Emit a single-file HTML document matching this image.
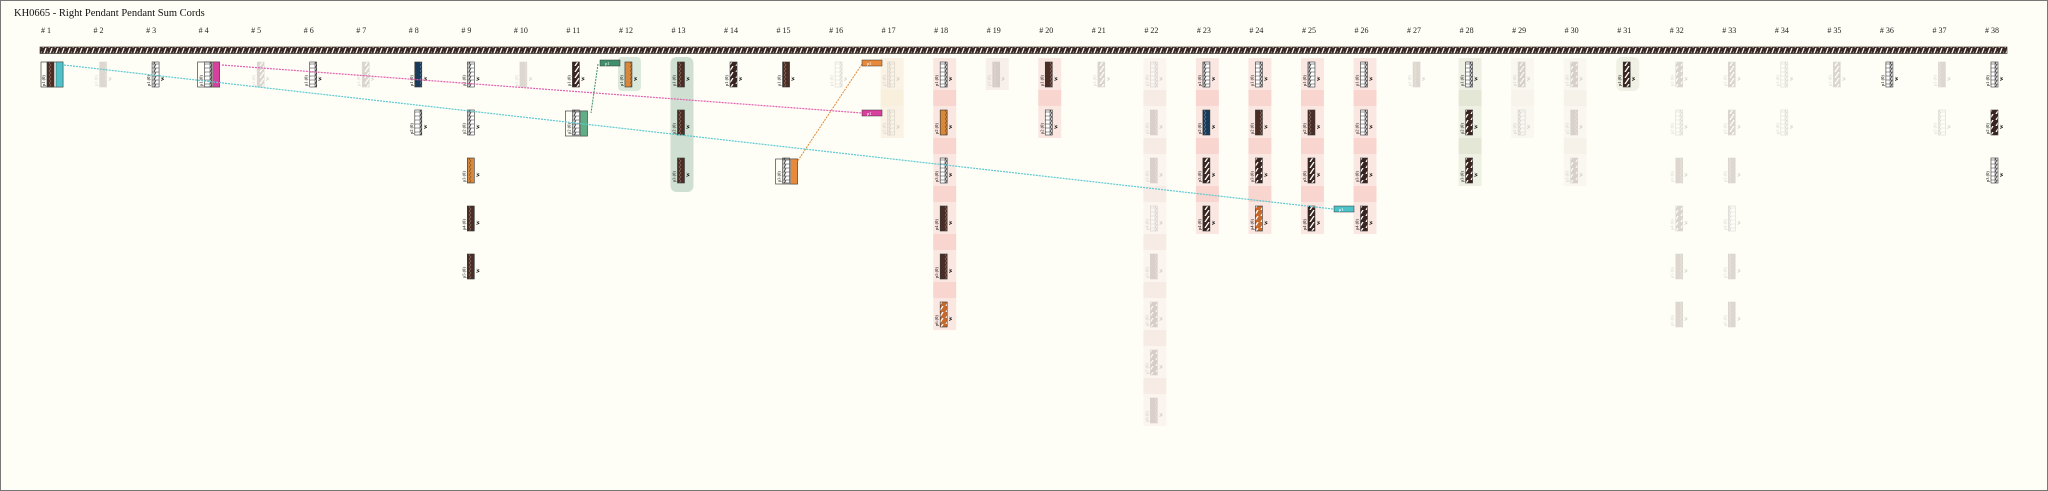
<!DOCTYPE html>
<html><head><meta charset="utf-8">
<style>
html,body{margin:0;padding:0;background:#fffef6;}
body{width:2048px;height:491px;overflow:hidden;position:relative;}
#frame{position:absolute;left:0;top:0;width:2046px;height:489px;border:1px solid #777;}
svg{position:absolute;left:0;top:0;}
text{font-family:"Liberation Serif",serif;}
</style></head><body>
<div id="frame"></div>
<svg id="s" width="2048" height="491" xmlns="http://www.w3.org/2000/svg">
<defs>
<pattern id="band" width="6" height="8" patternUnits="userSpaceOnUse"><rect width="6" height="8" fill="#3a2a26"/><path d="M1 8 L4 0" stroke="#fff" stroke-width="1.2"/><path d="M4 8 L6 3" stroke="#b07050" stroke-width="1"/></pattern>
<pattern id="w" width="7" height="4" patternUnits="userSpaceOnUse"><rect width="7" height="4" fill="#fff"/><path d="M0 4 L2 0" stroke="#333" stroke-width="0.8"/><rect width="7" height="4" fill="none" stroke="#333" stroke-width="0.5"/></pattern>
<pattern id="d" width="7" height="6" patternUnits="userSpaceOnUse"><rect width="7" height="6" fill="#3a2420"/><path d="M1 6 L5 0" stroke="#fff" stroke-width="1.3"/></pattern>
<pattern id="dd" width="7" height="4" patternUnits="userSpaceOnUse"><rect width="7" height="4" fill="#4a2e26"/><path d="M0 4 L2 0" stroke="#9a7a70" stroke-width="0.7"/></pattern>
<pattern id="o" width="7" height="4" patternUnits="userSpaceOnUse"><rect width="7" height="4" fill="#d7883a"/><path d="M0 4 L2 0" stroke="#7a4a20" stroke-width="0.7"/></pattern>
<pattern id="n" width="7" height="4" patternUnits="userSpaceOnUse"><rect width="7" height="4" fill="#1a3a5a"/><path d="M0 4 L2 0" stroke="#6a8aa0" stroke-width="0.7"/></pattern>
<pattern id="do" width="7" height="6" patternUnits="userSpaceOnUse"><rect width="7" height="6" fill="#c8682a"/><path d="M1 6 L5 0" stroke="#fff" stroke-width="1.3"/></pattern>
</defs>
<text x="14" y="16" font-size="10.5" fill="#111">KH0665 - Right Pendant Pendant Sum Cords</text>
<rect x="40" y="47" width="1967" height="6.5" fill="url(#band)" stroke="#222" stroke-width="0.6"/>
<g id="g"></g>
</svg>
<script>
var g=document.getElementById('g'),NS='http://www.w3.org/2000/svg';
function el(t,a,txt){var e=document.createElementNS(NS,t);for(var k in a)e.setAttribute(k,a[k]);if(txt)e.textContent=txt;g.appendChild(e);return e;}
function cx(i){return 46+52.54*(i-1);}
for(var i=1;i<=38;i++){el('text',{x:cx(i)-5,y:33,'font-size':8,fill:'#222'},'# '+i);}
function rowY(r){return 62+48*(r-1);}
// column backgrounds
var cols={18:[6,'#f8d6cf','#fbe7e2',1],22:[8,'#f7ebe6','#fbf4ef',1],23:[4,'#f8d6cf','#fbe7e2',1],24:[4,'#f8d6cf','#fbe7e2',1],25:[4,'#f8d6cf','#fbe7e2',1],26:[4,'#f8d6cf','#fbe7e2',1],28:[3,'#e4e6d6','#eff0e4',1],20:[2,'#f8d6cf','#fbe7e2',1],19:[1,'#f7efea','#f7efea',1],17:[2,'#f8efdc','#faf2e4',1],29:[2,'#f8f4ec','#faf7f0',1],30:[3,'#f6f2ea','#faf7f0',1]};
for(var c in cols){var v=cols[c],x=cx(+c)-6;
 for(var r=1;r<=v[0];r++){el('rect',{x:x,y:rowY(r)-4,width:23,height:32,fill:v[2]});if(r<v[0])el('rect',{x:x,y:rowY(r)+28,width:23,height:16,fill:v[1]});}}
el('rect',{x:cx(13)-6,y:57,width:23,height:135,rx:6,fill:'#cfe0d2'});
el('rect',{x:cx(12)-6,y:57,width:23,height:34,rx:4,fill:'#dbe8dc'});
el('rect',{x:cx(31)-6,y:57,width:23,height:34,rx:6,fill:'#f0f0e4'});
// cords: [col,row,pattern,faint]
var C=[[1,1,'dd'],[2,1,'dd',1],[3,1,'w'],[4,1,'w'],[5,1,'d',1],[6,1,'w'],[7,1,'d',1],[8,1,'n'],[8,2,'w'],[9,1,'w'],[9,2,'w'],[9,3,'o'],[9,4,'dd'],[9,5,'dd'],[10,1,'dd',1],[11,1,'d'],[11,2,'w'],[12,1,'o'],[13,1,'dd'],[13,2,'dd'],[13,3,'dd'],[14,1,'d'],[15,1,'dd'],[15,3,'w'],[16,1,'w',1],[17,1,'w',1],[17,2,'w',1],
[18,1,'w'],[18,2,'o'],[18,3,'w'],[18,4,'dd'],[18,5,'dd'],[18,6,'do'],[19,1,'dd',1],[20,1,'dd'],[20,2,'w'],[21,1,'d',1],
[22,1,'w',1],[22,2,'dd',1],[22,3,'dd',1],[22,4,'w',1],[22,5,'dd',1],[22,6,'d',1],[22,7,'d',1],[22,8,'dd',1],
[23,1,'w'],[23,2,'n'],[23,3,'d'],[23,4,'d'],[24,1,'w'],[24,2,'dd'],[24,3,'d'],[24,4,'do'],[25,1,'w'],[25,2,'dd'],[25,3,'d'],[25,4,'d'],[26,1,'w'],[26,2,'w'],[26,3,'d'],[26,4,'d'],
[27,1,'dd',1],[28,1,'w'],[28,2,'d'],[28,3,'d'],[29,1,'d',1],[29,2,'w',1],[30,1,'d',1],[30,2,'dd',1],[30,3,'d',1],[31,1,'d'],
[32,1,'d',1],[32,2,'w',1],[32,3,'dd',1],[32,4,'d',1],[32,5,'dd',1],[32,6,'dd',1],[33,1,'d',1],[33,2,'d',1],[33,3,'dd',1],[33,4,'w',1],[33,5,'dd',1],[33,6,'dd',1],
[34,1,'w',1],[34,2,'w',1],[35,1,'d',1],[36,1,'w'],[37,1,'dd',1],[37,2,'w',1],[38,1,'w'],[38,2,'d'],[38,3,'w']];
C.forEach(function(a){var x=cx(a[0]),y=rowY(a[1]);var gg=document.createElementNS(NS,'g');if(a[3])gg.setAttribute('opacity','0.18');g.appendChild(gg);
 var r=document.createElementNS(NS,'rect');r.setAttribute('x',x+1);r.setAttribute('y',y);r.setAttribute('width',7);r.setAttribute('height',25);r.setAttribute('fill','url(#'+a[2]+')');r.setAttribute('stroke','#333');r.setAttribute('stroke-width','0.6');gg.appendChild(r);
 var t=document.createElementNS(NS,'text');t.setAttribute('transform','translate('+(x-1)+','+(y+24)+') rotate(-90)');t.setAttribute('font-size','4.5');t.setAttribute('font-family','Liberation Sans,sans-serif');t.textContent='p'+a[1]+' (0)';gg.appendChild(t);
 var t2=document.createElementNS(NS,'text');t2.setAttribute('transform','translate('+(x+13)+','+(y+19)+') rotate(-90)');t2.setAttribute('font-size','4.5');t2.setAttribute('font-family','Liberation Sans,sans-serif');t2.setAttribute('font-weight','bold');t2.textContent='W';gg.appendChild(t2);
});
// boxes
function box(x,y,w,h,col){el('rect',{x:x,y:y,width:w,height:h,fill:'none',stroke:'#444','stroke-width':0.7});el('rect',{x:x+w-7,y:y,width:7,height:h,fill:col,stroke:'#444','stroke-width':0.5});}
box(41,62,22,25,'#4dc3c9');box(cx(4)-6,62,22,25,'#d9409e');box(cx(11)-6,111,22,25,'#5fae85');box(cx(15)-6,159,22,25,'#e98a3a');
// lines
el('line',{x1:64,y1:65,x2:1333,y2:209,stroke:'#5cc9d0','stroke-width':1.2,'stroke-dasharray':'2 1'});
el('line',{x1:222,y1:65,x2:862,y2:113,stroke:'#e060b0','stroke-width':1.2,'stroke-dasharray':'2 1'});
el('line',{x1:598,y1:64,x2:591,y2:113,stroke:'#3f8f6a','stroke-width':1,'stroke-dasharray':'2 1'});
el('line',{x1:862,y1:64,x2:797,y2:162,stroke:'#e08a3a','stroke-width':1,'stroke-dasharray':'2 1'});
// labels
function lab(x,y,col){el('rect',{x:x,y:y-3,width:20,height:6,fill:col,stroke:'#333','stroke-width':0.5});el('text',{x:x+5,y:y+2,'font-size':4.5,fill:'#fff'},'p1');}
lab(600,63,'#3f8f6a');lab(862,63,'#e98a3a');lab(862,113,'#d9409e');lab(1334,209,'#4dc3c9');
</script>
</body></html>
